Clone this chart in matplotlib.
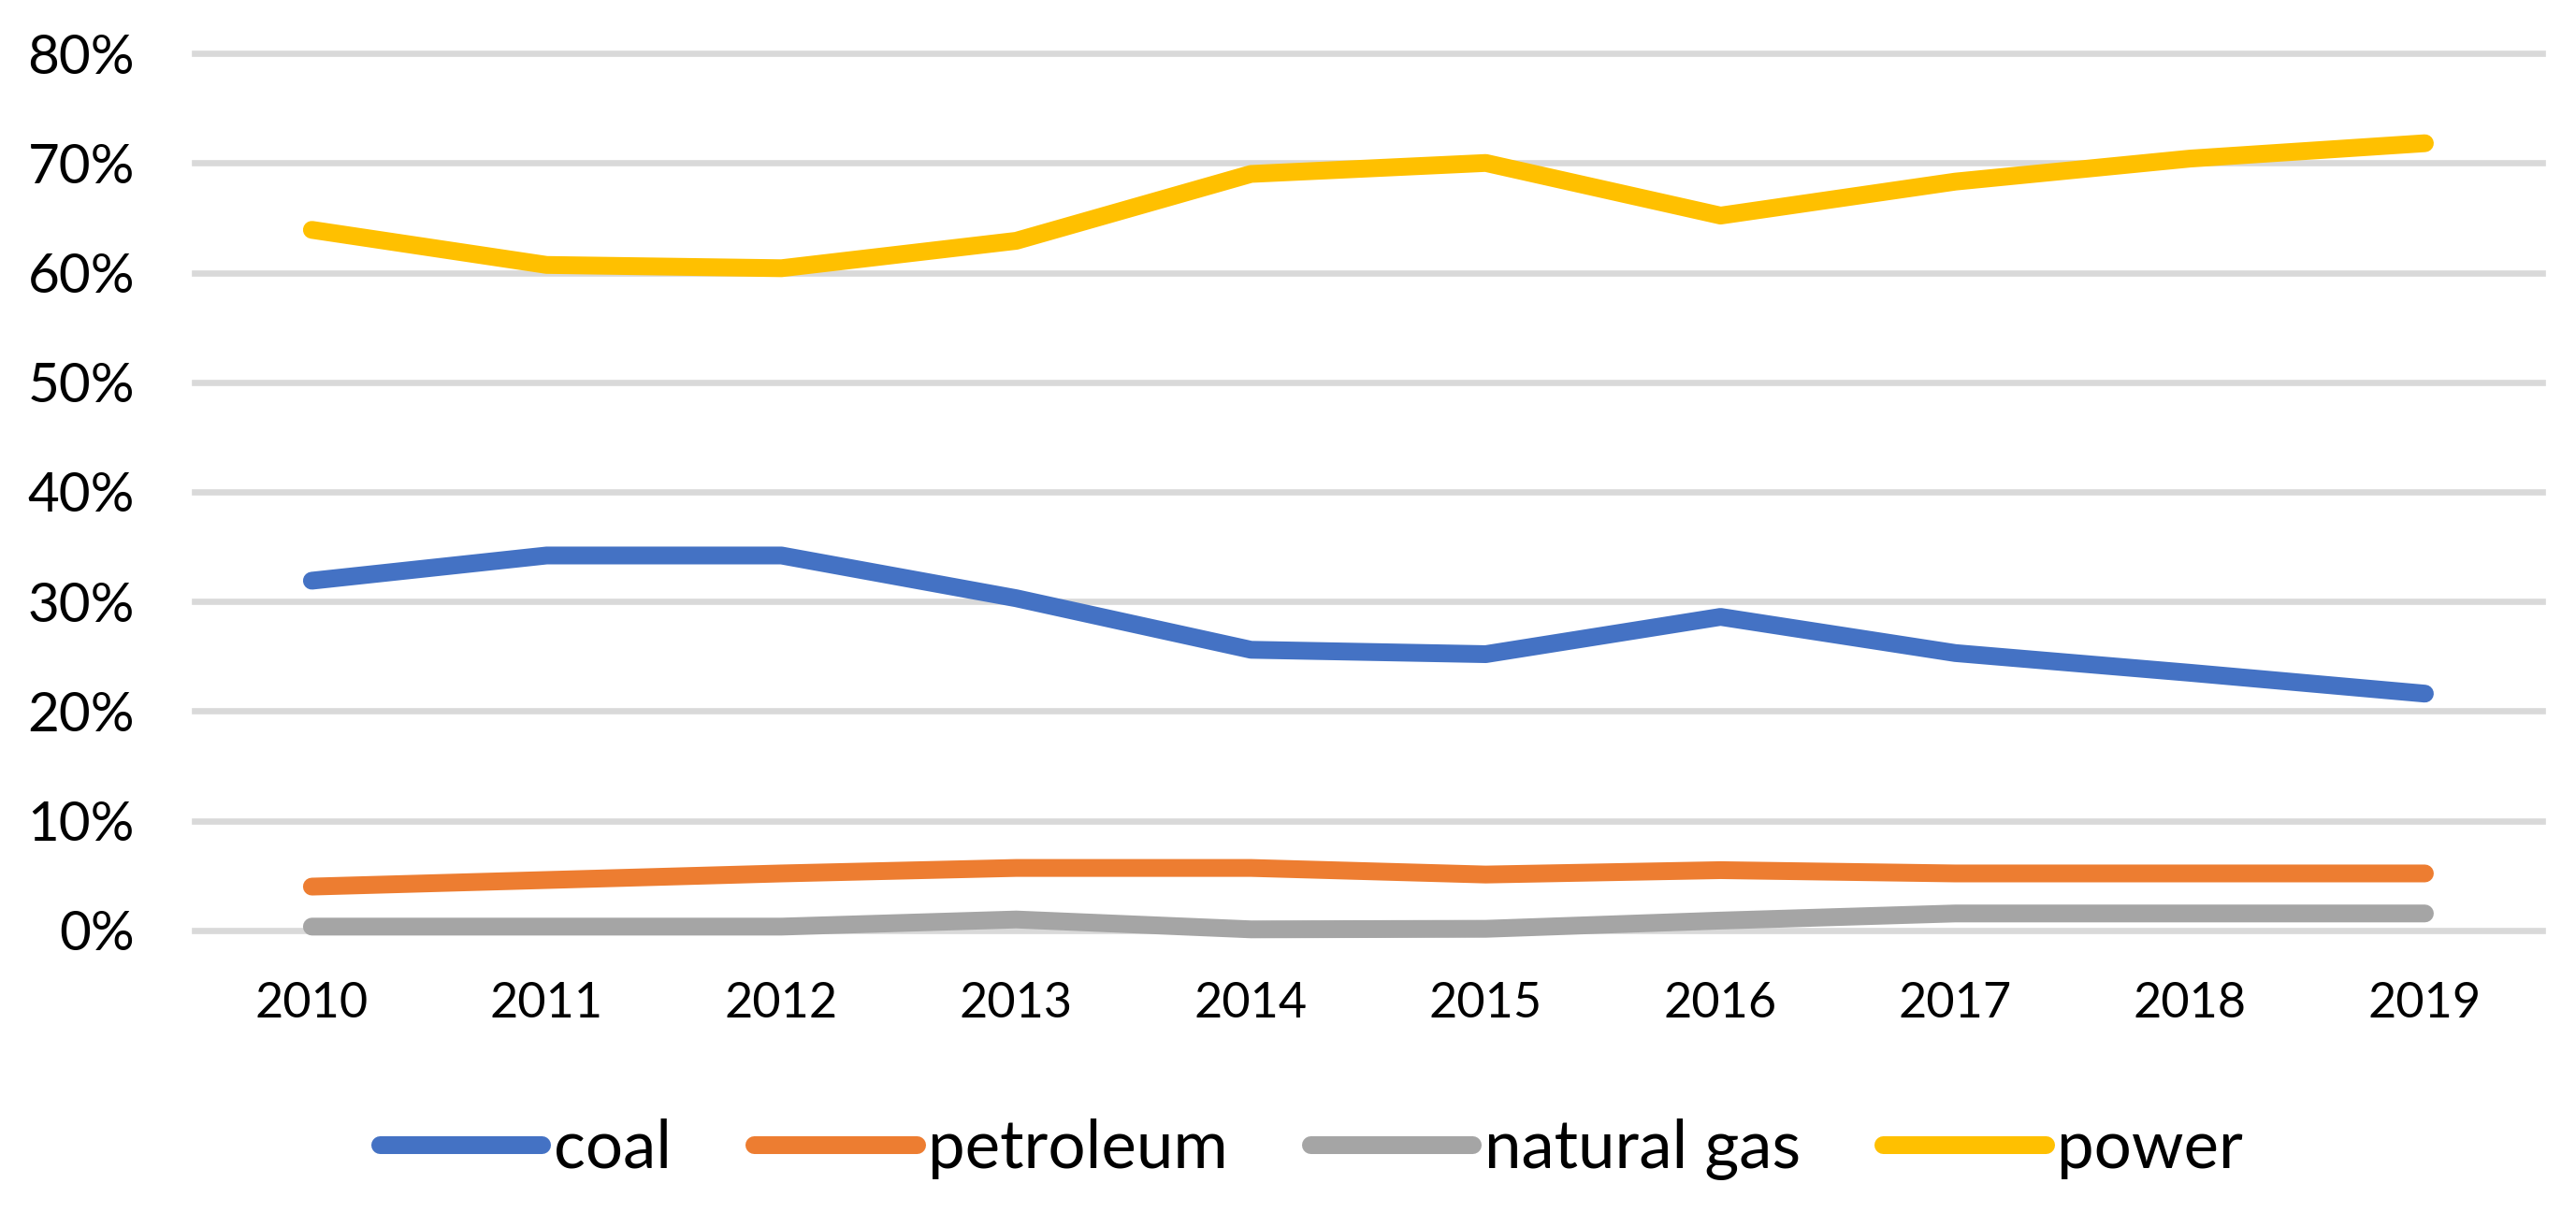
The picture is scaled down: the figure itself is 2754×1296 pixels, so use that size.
import matplotlib
matplotlib.use("Agg")
import matplotlib.pyplot as plt
from matplotlib.ticker import FixedLocator, PercentFormatter

plt.rcParams["font.family"] = ["Lato", "DejaVu Sans"]

years = ["2010", "2011", "2012", "2013", "2014", "2015", "2016", "2017", "2018", "2019"]
coal = [31.9, 34.2, 34.2, 30.3, 25.6, 25.2, 28.6, 25.3, 23.5, 21.6]
petroleum = [4.0, 4.6, 5.2, 5.7, 5.7, 5.1, 5.5, 5.2, 5.2, 5.2]
natural_gas = [0.35, 0.35, 0.35, 1.0, 0.1, 0.15, 0.9, 1.55, 1.55, 1.55]
power = [63.9, 60.7, 60.4, 62.9, 69.0, 70.0, 65.2, 68.3, 70.4, 71.8]
y_ticks = [0, 10, 20, 30, 40, 50, 60, 70, 80]

series = [
    ("coal", coal, "#4472C4"),
    ("petroleum", petroleum, "#ED7D31"),
    ("natural gas", natural_gas, "#A5A5A5"),
    ("power", power, "#FFC000"),
]

fig = plt.figure(figsize=(27.54, 12.96), dpi=100)
ax = fig.add_axes([0.0755, 0.2323, 0.9114, 0.7237])

x = list(range(len(years)))
for name, values, color in series:
    ax.plot(x, values, color=color, lw=13.7, label=name,
            solid_capstyle="round", solid_joinstyle="round",
            clip_on=False, zorder=3)

ax.set_xlim(-0.5, len(years) - 0.5)
ax.set_ylim(0, 80)
ax.set_xticks(x)
ax.set_xticklabels(years)
ax.yaxis.set_major_locator(FixedLocator(y_ticks))
ax.yaxis.set_major_formatter(PercentFormatter(xmax=100, decimals=0))

ax.tick_params(axis="x", length=0, pad=40, labelsize=37.5, colors="black")
ax.tick_params(axis="y", length=0, pad=46, labelsize=42, colors="black")

ax.grid(axis="y", color="#D9D9D9", lw=4.8, zorder=0)
ax.set_axisbelow(True)
for line in ax.get_ygridlines():
    line.set_clip_on(False)
for side in ["top", "right", "bottom", "left"]:
    ax.spines[side].set_visible(False)

fig.legend(loc="center", bbox_to_anchor=(0.509, 0.0517), ncol=4,
           frameon=False, fontsize=51, handlelength=2.45,
           handletextpad=0.17, columnspacing=1.25)

fig.savefig("out.png", dpi=100, facecolor="white")
